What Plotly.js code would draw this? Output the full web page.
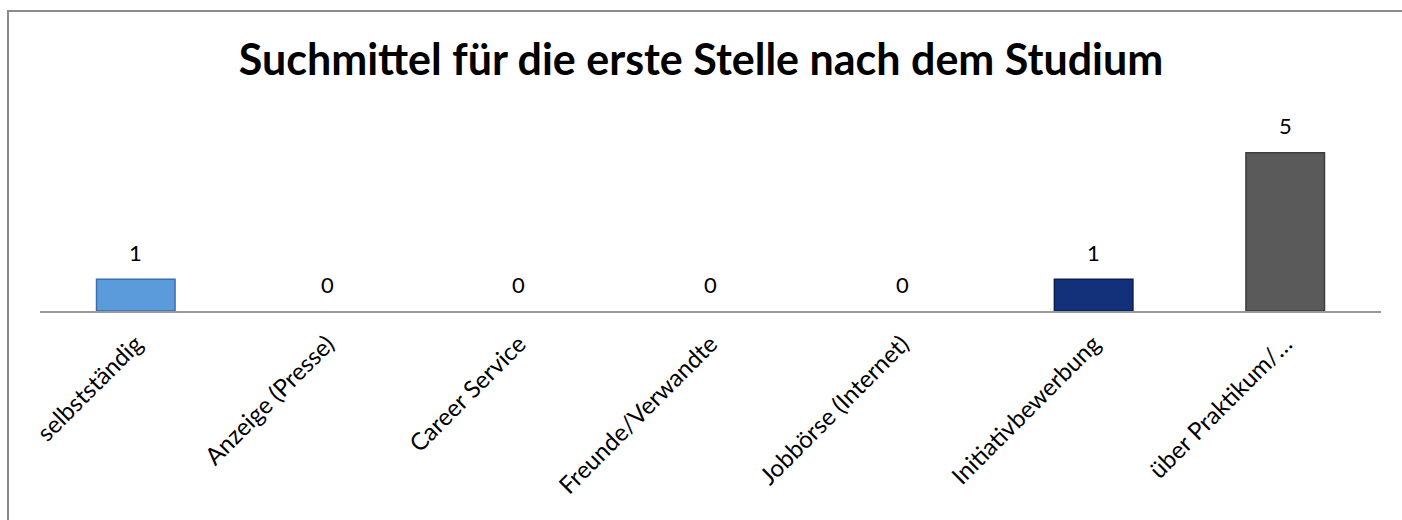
<!DOCTYPE html>
<html>
<head>
<meta charset="utf-8">
<script src="https://cdn.plot.ly/plotly-3.0.1.min.js"></script>
<style>
  html, body { margin: 0; padding: 0; background: #fff; }
  #wrap { position: relative; width: 1402px; height: 520px; overflow: hidden; }
  #chart { position: absolute; left: 0; top: 0; width: 1402px; height: 520px; }
  #frame { position: absolute; left: 7px; top: 10px; width: 1500px; height: 600px;
           border-left: 2px solid #8a8a8a; border-top: 2px solid #8a8a8a; pointer-events: none; }
</style>
</head>
<body>
<div id="wrap">
  <div id="chart"></div>
  <div id="frame"></div>
</div>
<script>
const titleText = "Suchmittel für die erste Stelle nach dem Studium";
const categories = ["selbstständig", "Anzeige (Presse)", "Career Service", "Freunde/Verwandte", "Jobbörse (Internet)", "Initiativbewerbung", "über Praktikum/…"];
const values = [1, 0, 0, 0, 0, 1, 5];
const barColors = ["#5b9bdc", "#5b9bdc", "#5b9bdc", "#5b9bdc", "#5b9bdc", "#13307a", "#5a5a5a"];
const barLines = ["#3a6fae", "#3a6fae", "#3a6fae", "#3a6fae", "#3a6fae", "#0a1e52", "#3c3c3c"];

const fontFam = "Lato, 'Open Sans', sans-serif";

const trace = {
  type: "bar",
  x: categories,
  y: values,
  width: 0.41,
  marker: { color: barColors, line: { color: barLines, width: values.map(v => v > 0 ? 1.5 : 0) } },
  hoverinfo: "x+y"
};

const annotations = categories.map((c, i) => ({
  x: c, y: values[i], xref: "x", yref: "y",
  text: String(values[i]), showarrow: false,
  yshift: 27, font: { family: fontFam, size: 22, color: "#000" }
}));

const layout = {
  width: 1402, height: 520,
  margin: { l: 40, r: 21, t: 121, b: 209, pad: 0 },
  paper_bgcolor: "#fff", plot_bgcolor: "#fff",
  title: { text: "<b>" + titleText + "</b>", x: 0.5, xanchor: "center", y: 0.885, yanchor: "middle",
           font: { family: fontFam, size: 43, color: "#000" } },
  showlegend: false,
  xaxis: {
    type: "category", range: [-0.5, 6.5],
    showline: true, linecolor: "#9a9a9a", linewidth: 1.5,
    showgrid: false, zeroline: false,
    ticks: "outside", ticklen: 8, tickcolor: "rgba(0,0,0,0)",
    tickangle: -45, tickfont: { family: fontFam, size: 24, color: "#000" }
  },
  yaxis: { range: [0, 6], visible: false, showgrid: false, zeroline: false },
  annotations: annotations
};

Plotly.newPlot("chart", [trace], layout, { displayModeBar: false, staticPlot: true });
</script>
</body>
</html>
